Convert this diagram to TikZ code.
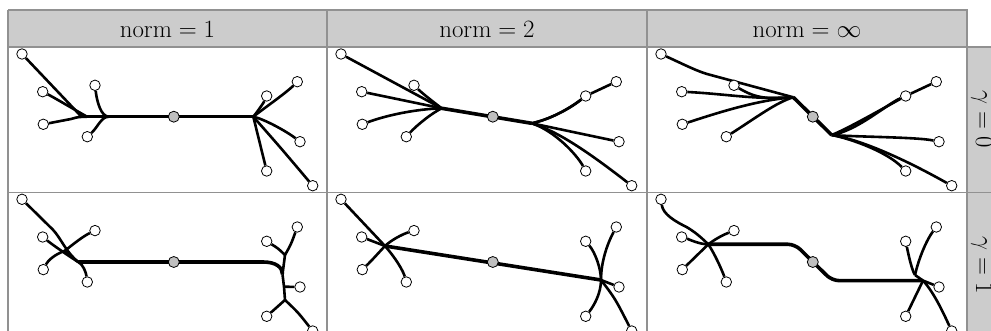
\documentclass[tikz,border=0pt]{standalone}
\definecolor{gridgray}{RGB}{145,145,145}
\definecolor{headgray}{RGB}{204,204,204}
\pgfdeclarelayer{back}
\pgfdeclarelayer{edges}
\pgfsetlayers{back,edges,main}
\tikzset{
  leaf/.style={circle, draw=black, fill=white, line width=0.8pt, inner sep=0pt, minimum size=10.5pt},
  rootnode/.style={circle, draw=black, fill=gray!50, line width=0.8pt, inner sep=0pt, minimum size=11pt},
  br/.style={draw=black, line width=2.6pt},
  trunk/.style={draw=black, line width=3.6pt},
  gridline/.style={draw=gridgray, line width=1.5pt},
  headlabel/.style={anchor=base, font=\Huge, inner sep=0pt},
  rowlabel/.style={anchor=base, rotate=-90, font=\Huge, inner sep=0pt}
}
\newcommand\placeterminals[1]{%
  \node[leaf] (#1L1) at (14,7) {};
  \node[leaf] (#1L2) at (34.7,44.7) {};
  \node[leaf] (#1L3) at (35.3,77.3) {};
  \node[leaf] (#1L4) at (87,38.3) {};
  \node[leaf] (#1L5) at (79.3,89.7) {};
  \node[rootnode] (#1C) at (165.8,69.7) {};
  \node[leaf] (#1R1) at (289.3,34.7) {};
  \node[leaf] (#1R2) at (258.7,49) {};
  \node[leaf] (#1R3) at (292,94.7) {};
  \node[leaf] (#1R4) at (258.7,124) {};
  \node[leaf] (#1R5) at (304.7,138.7) {};
}
\begin{document}
\begin{tikzpicture}[x=1pt,y=-1pt]
\useasboundingbox (0,0) rectangle (991,331);
\clip (0,0) rectangle (991,331);
\begin{pgfonlayer}{back}
  \fill[white] (0,0) rectangle (991,331);
  \fill[headgray] (8,10) rectangle (967,47);
  \fill[headgray] (967,47) rectangle (1020,345);
  \draw[gridline] (8,10) -- (967,10) -- (967,345);
  \draw[gridline] (8,47) -- (1020,47);
  \draw[gridline] (8,192.3) -- (1020,192.3);
  \draw[gridline] (8,10) -- (8,345);
  \draw[gridline] (327,10) -- (327,345);
  \draw[gridline] (647,10) -- (647,345);
\end{pgfonlayer}
\node[headlabel] (h1) at (167.5,37.3) {$\mathrm{norm}=1$};
\node[headlabel] (h2) at (487,37.3) {$\mathrm{norm}=2$};
\node[headlabel] (h3) at (807,37.3) {$\mathrm{norm}=\infty$};
\node[rowlabel] (g0) at (976,119.5) {$\gamma=0$};
\node[rowlabel] (g1) at (976,265) {$\gamma=1$};

% ---------- norm 1, gamma 0
\begin{scope}[shift={(8,47)}]
  \placeterminals{a}
  \coordinate (aJ1) at (79,69.7);
  \coordinate (aJ2) at (101,69.7);
  \coordinate (aJR) at (245.3,69.7);
  \begin{pgfonlayer}{edges}
    \draw[trunk] (aJ1) -- (aJR);
    \draw[br] (aL1) -- (70,66) .. controls (73,69.7) .. (aJ1);
    \draw[br] (aL2) .. controls (45,50) and (62,60) .. (aJ1);
    \draw[br] (aL3) -- (63,72) .. controls (70,70) .. (aJ1);
    \draw[br] (aL4) .. controls (89,55) and (93,69.7) .. (aJ2);
    \draw[br] (aL5) .. controls (90,80) and (93,69.7) .. (aJ2);
    \draw[br] (aJR) .. controls (255,62) and (278,46) .. (aR1);
    \draw[br] (aJR) .. controls (250,64) and (256,55) .. (aR2);
    \draw[br] (aJR) .. controls (256,72) and (278,84) .. (aR3);
    \draw[br] (aJR) -- (aR4);
    \draw[br] (aJR) .. controls (272,100) .. (aR5);
  \end{pgfonlayer}
\end{scope}

% ---------- norm 2, gamma 0
\begin{scope}[shift={(327,47)}]
  \placeterminals{b}
  \coordinate (bJ) at (114.7,61.3);
  \coordinate (bJR) at (204.7,76.3);
  \begin{pgfonlayer}{edges}
    \draw[trunk] (bJ) -- (bJR);
    \draw[br] (bL1) -- (bJ);
    \draw[br] (bL2) .. controls (70,52) .. (bJ);
    \draw[br] (bL3) .. controls (60,68) and (90,62) .. (bJ);
    \draw[br] (bL4) .. controls (95,46) and (105,54) .. (bJ);
    \draw[br] (bL5) .. controls (90,78) and (105,66) .. (bJ);
    \draw[br] (bJR) .. controls (225,72) and (245,60) .. (bR2);
    \draw[br] (bJR) .. controls (228,71) and (247,58) .. (bR2);
    \draw[br] (bR2) -- (bR1);
    \draw[br] (bJR) -- (bR3);
    \draw[br] (bJR) .. controls (228,84) and (250,108) .. (bR4);
    \draw[br] (bJR) .. controls (230,84) and (260,104) .. (bR5);
  \end{pgfonlayer}
\end{scope}

% ---------- norm inf, gamma 0
\begin{scope}[shift={(647,47)}]
  \placeterminals{c}
  \coordinate (cJt) at (146.3,50.3);
  \coordinate (cJb) at (184.7,88);
  \begin{pgfonlayer}{edges}
    \draw[trunk] (cJt) -- (cJb);
    \draw[br] (cL1) .. controls (40,19) and (50,24) .. (60,27) -- (cJt);
    \draw[br] (cL4) .. controls (100,46) and (110,51) .. (125,51) -- (cJt);
    \draw[br] (cL2) .. controls (80,47) and (110,53) .. (cJt);
    \draw[br] (cL3) .. controls (70,66) and (110,53) .. (cJt);
    \draw[br] (cL5) .. controls (110,70) and (130,55) .. (cJt);
    \draw[br] (cJb) .. controls (200,82) and (235,62) .. (cR2);
    \draw[br] (cJb) .. controls (210,84) and (240,57) .. (cR2);
    \draw[br] (cR2) -- (cR1);
    \draw[br] (cJb) .. controls (210,90) and (270,90) .. (cR3);
    \draw[br] (cJb) .. controls (205,92) and (240,105) .. (cR4);
    \draw[br] (cJb) .. controls (210,92) and (250,108) .. (cR5);
  \end{pgfonlayer}
\end{scope}

% ---------- norm 1, gamma 1
\begin{scope}[shift={(8,192.3)}]
  \placeterminals{d}
  \coordinate (dTL) at (70.3,69.7);
  \coordinate (dJM) at (274.5,82);
  \coordinate (dJU) at (277,62.7);
  \coordinate (dJ3) at (276,94.4);
  \coordinate (dJD) at (277,107.7);
  \coordinate (dJX) at (57,58.4);
  \begin{pgfonlayer}{edges}
    \draw[trunk] (dTL) -- (255,69.7) .. controls (268,69.7) and (274.5,75) .. (dJM);
    \draw[br] (dJM) -- (dJ3) -- (dJD);
    \draw[br] (dJM) .. controls (276.5,72) .. (dJU);
    \draw[br] (dJU) .. controls (270,56) .. (dR2);
    \draw[br] (dJU) .. controls (283,52) .. (dR1);
    \draw[br] (dJ3) -- (dR3);
    \draw[br] (dJD) -- (dR4);
    \draw[br] (dJD) .. controls (290,120) .. (dR5);
    \draw[br] (dL1) -- (45,37.5) .. controls (53,46) and (58,60) .. (dTL);
    \draw[br] (dL2) .. controls (44,52) and (58,62) .. (dTL);
    \draw[br] (dL4) .. controls (75,44) and (65,52) .. (dJX);
    \draw[br] (dJX) .. controls (47,62) and (40,68) .. (dL3);
    \draw[br] (dJX) .. controls (64,64) and (67,68) .. (dTL);
    \draw[br] (dL5) .. controls (78,80) and (75,72) .. (dTL);
  \end{pgfonlayer}
\end{scope}

% ---------- norm 2, gamma 1
\begin{scope}[shift={(327,192.3)}]
  \placeterminals{e}
  \coordinate (eJ) at (58,53.7);
  \coordinate (eJR) at (274,87.7);
  \begin{pgfonlayer}{edges}
    \draw[trunk] (eJ) -- (eJR);
    \draw[br] (eL1) -- (eJ);
    \draw[br] (eJ) .. controls (68,65) and (76,78) .. (eL5);
    \draw[br] (eL2) -- (eJ);
    \draw[br] (eL4) .. controls (75,42) and (64,48) .. (eJ);
    \draw[br] (eL3) .. controls (45,68) and (52,60) .. (eJ);
    \draw[br] (eR2) .. controls (268,60) and (274,76) .. (eJR);
    \draw[br] (eR1) .. controls (280,52) and (274,70) .. (eJR);
    \draw[br] (eJR) -- (eR3);
    \draw[br] (eJR) .. controls (274,100) and (268,112) .. (eR4);
    \draw[br] (eJR) .. controls (288,106) .. (eR5);
  \end{pgfonlayer}
\end{scope}

% ---------- norm inf, gamma 1
\begin{scope}[shift={(647,192.3)}]
  \placeterminals{f}
  \coordinate (fJL) at (61.3,52);
  \coordinate (fJR) at (276,88.3);
  \coordinate (fJU) at (268,82.7);
  \begin{pgfonlayer}{edges}
    \draw[trunk, rounded corners=7pt] (fJL) -- (148,52) -- (185,88.3) -- (fJR);
    \draw[br] (fL1) .. controls (16,22) and (28,29) .. (40,35) .. controls (50,41) and (56,47) .. (fJL);
    \draw[br] (fL2) .. controls (42,47) and (52,52) .. (fJL);
    \draw[br] (fL3) -- (fJL);
    \draw[br] (fL4) .. controls (75,43) and (68,47) .. (fJL);
    \draw[br] (fL5) .. controls (75,78) and (68,62) .. (fJL);
    \draw[br] (fR2) .. controls (262,65) and (265,78) .. (fJU);
    \draw[br] (fR1) .. controls (280,47) and (272,65) .. (fJU);
    \draw[br] (fJU) -- (fJR);
    \draw[br] (fJR) -- (fR3);
    \draw[br] (fJR) -- (fR4);
    \draw[br] (fJR) .. controls (287,100) and (297,122) .. (fR5);
  \end{pgfonlayer}
\end{scope}
\end{tikzpicture}
\end{document}
